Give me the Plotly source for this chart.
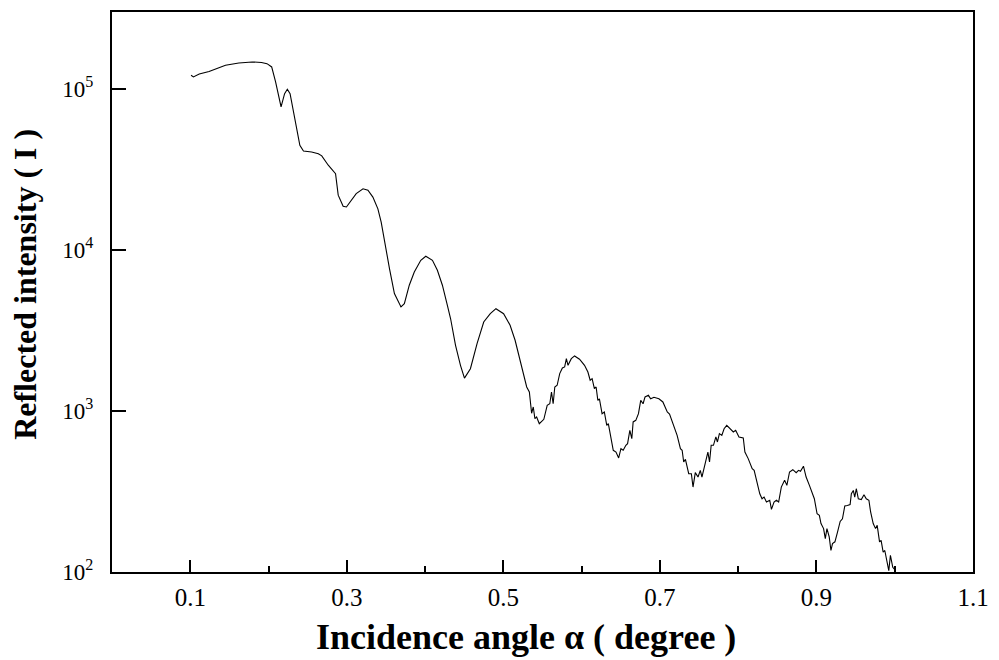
import plotly.graph_objects as go

# Incidence angle (degree)
angle = [
    0.101, 0.104, 0.1115, 0.124, 0.145, 0.162, 0.179, 0.191, 0.198, 0.204,
    0.209, 0.213, 0.216, 0.2205, 0.224, 0.2275, 0.232, 0.236, 0.240, 0.2446,
    0.255, 0.2636, 0.268, 0.2763, 0.2856, 0.289, 0.2953, 0.2995, 0.306, 0.312,
    0.3207, 0.327, 0.3333, 0.3397, 0.3439, 0.3482, 0.3545, 0.3608, 0.3692, 0.3735,
    0.3798, 0.3862, 0.3945, 0.4009, 0.4094, 0.4157, 0.4221, 0.4284, 0.4326, 0.4389,
    0.4452, 0.4503, 0.4579, 0.4664, 0.4749, 0.4833, 0.4905, 0.5003, 0.5086, 0.515,
    0.5213, 0.5276, 0.5298, 0.5332, 0.5361, 0.5382, 0.5403, 0.5425, 0.5459, 0.5517,
    0.556, 0.5593, 0.5615, 0.5636, 0.5657, 0.5687, 0.572, 0.5754, 0.5783, 0.5805,
    0.5826, 0.5868, 0.591, 0.5973, 0.6037, 0.608, 0.6109, 0.6134, 0.6163, 0.6185,
    0.6207, 0.6227, 0.6261, 0.629, 0.6321, 0.6341, 0.6375, 0.6404, 0.6439, 0.6473,
    0.6502, 0.6531, 0.6565, 0.6587, 0.6616, 0.6641, 0.6658, 0.6692, 0.6726, 0.6755,
    0.6785, 0.681, 0.6853, 0.6882, 0.6924, 0.6987, 0.7038, 0.7094, 0.7123, 0.7157,
    0.722, 0.7262, 0.7284, 0.7304, 0.7326, 0.7368, 0.7402, 0.7423, 0.7452, 0.7487,
    0.7516, 0.7537, 0.7579, 0.7613, 0.7634, 0.7655, 0.7684, 0.7715, 0.7735, 0.776,
    0.7791, 0.782, 0.7854, 0.7896, 0.7938, 0.7968, 0.801, 0.8065, 0.8086, 0.8128,
    0.8179, 0.8204, 0.8247, 0.8276, 0.8305, 0.8331, 0.8361, 0.8403, 0.8425, 0.8458,
    0.8488, 0.8517, 0.8551, 0.8593, 0.8622, 0.8656, 0.8698, 0.8741, 0.8771, 0.8796,
    0.8834, 0.8868, 0.891, 0.8973, 0.9008, 0.9037, 0.9058, 0.9091, 0.9113, 0.9134,
    0.9163, 0.9185, 0.9205, 0.9236, 0.9269, 0.9303, 0.9332, 0.9362, 0.9395, 0.943,
    0.9446, 0.9471, 0.9489, 0.9509, 0.9535, 0.9573, 0.9607, 0.9636, 0.967, 0.9692,
    0.9725, 0.9755, 0.9776, 0.9806, 0.9826, 0.9852, 0.9873, 0.9902, 0.9924, 0.9945,
    0.9975, 0.9996, 1.0009,
]

# Reflected intensity (counts)
intensity = [
    121600, 118700, 123900, 128500, 140300, 145000, 147200, 146000, 143600, 137000,
    110500, 89100, 77300, 93500, 99600, 93500, 71900, 56600, 44700, 41200,
    40600, 39600, 38400, 33600, 29800, 21900, 18700, 18500, 20400, 22400,
    24000, 23500, 21300, 18000, 14900, 11200, 7660, 5360, 4430, 4640,
    6040, 7300, 8630, 9140, 8630, 7480, 6040, 4540, 3740, 2560,
    1920, 1600, 1830, 2620, 3570, 4020, 4320, 4020, 3410, 2750,
    2070, 1590, 1410, 1312, 968, 1059, 896, 918, 834, 888,
    1084, 1109, 1312, 1109, 1410, 1445, 1706, 1850, 1877, 2113,
    1922, 2113, 2197, 2096, 1922, 1746, 1552, 1588, 1376, 1410,
    1164, 1191, 962, 986, 815, 834, 673, 570, 556, 511,
    583, 570, 612, 627, 759, 673, 855, 875, 962, 1164,
    1109, 1222, 1251, 1191, 1216, 1191, 1138, 986, 957, 855,
    706, 583, 570, 482, 501, 408, 408, 337, 414, 389,
    428, 389, 471, 556, 482, 612, 612, 690, 642, 723,
    706, 776, 815, 776, 741, 759, 690, 679, 556, 506,
    438, 428, 353, 306, 285, 292, 272, 279, 245, 272,
    279, 272, 337, 372, 345, 418, 432, 414, 428, 422,
    454, 389, 345, 285, 230, 225, 200, 186, 161, 186,
    165, 136, 150, 154, 177, 206, 214, 257, 259, 262,
    306, 321, 292, 329, 285, 282, 302, 285, 279, 236,
    200, 186, 195, 154, 157, 133, 136, 115, 102, 127,
    107, 104, 100,
]

x_major = [0.1, 0.3, 0.5, 0.7, 0.9, 1.1]
x_major_text = ["0.1", "0.3", "0.5", "0.7", "0.9", "1.1"]
x_minor = [0.2, 0.4, 0.6, 0.8, 1.0]
y_ticks = [1e2, 1e3, 1e4, 1e5]
y_tick_text = ["10<sup>2</sup>", "10<sup>3</sup>", "10<sup>4</sup>", "10<sup>5</sup>"]

x_title = "Incidence angle α ( degree )"
y_title = "Reflected intensity ( I )"

SERIF = "Liberation Serif, Times New Roman, serif"

fig = go.Figure()
fig.add_trace(go.Scatter(
    x=angle, y=intensity, mode="lines",
    line=dict(color="black", width=1.1),
    showlegend=False, hoverinfo="skip",
))

fig.update_layout(
    width=999, height=660,
    margin=dict(l=112, r=19, t=10, b=88),
    paper_bgcolor="white", plot_bgcolor="white",
    font=dict(family=SERIF, color="black"),
    xaxis=dict(
        range=[0, 1.1], showgrid=False, zeroline=False,
        showline=True, linecolor="black", linewidth=2, mirror=True,
        ticks="inside", ticklen=12, tickwidth=1.5, tickcolor="black",
        tickmode="array", tickvals=x_major, ticktext=x_major_text,
        tickfont=dict(family=SERIF, size=25, color="black"),
        ticklabelstandoff=2,
        minor=dict(tickmode="array", tickvals=x_minor, ticks="inside",
                   ticklen=6, tickwidth=1.5, tickcolor="black", showgrid=False),
    ),
    yaxis=dict(
        type="log", range=[2, 5.478], showgrid=False, zeroline=False,
        showline=True, linecolor="black", linewidth=2, mirror=True,
        ticks="inside", ticklen=14, tickwidth=1.5, tickcolor="black",
        tickmode="array", tickvals=y_ticks, ticktext=y_tick_text,
        tickfont=dict(family=SERIF, size=23, color="black"),
        ticklabelstandoff=12,
    ),
    annotations=[
        dict(text=x_title, xref="paper", yref="paper",
             x=0.4804, y=-0.1157, xanchor="center", yanchor="middle",
             showarrow=False,
             font=dict(family=SERIF, size=36, color="black", weight="bold")),
        dict(text=y_title, xref="paper", yref="paper",
             x=-0.1014, y=0.514, xanchor="center", yanchor="middle",
             textangle=-90, showarrow=False,
             font=dict(family=SERIF, size=32, color="black", weight="bold")),
    ],
)

fig.write_html("out.html")
